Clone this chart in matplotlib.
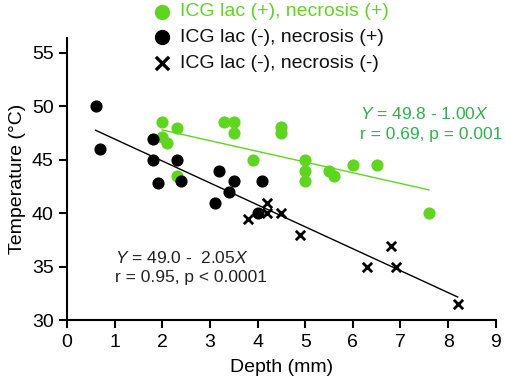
import numpy as np
import matplotlib.pyplot as plt

plt.rcParams['font.family'] = ['Liberation Sans', 'DejaVu Sans']
plt.rcParams['mathtext.fontset'] = 'custom'
plt.rcParams['mathtext.rm'] = 'Liberation Sans'
plt.rcParams['mathtext.it'] = 'Liberation Sans:italic'

# ICG lac (+), necrosis (+)
green_x = [2.0, 2.3, 2.0, 2.1, 2.3, 3.3, 3.5, 3.5, 3.9, 4.5, 4.5, 5.0, 5.0, 5.0, 5.5, 5.6, 6.0, 6.5, 7.6]
green_y = [48.5, 48.0, 47.1, 46.6, 43.5, 48.5, 48.5, 47.5, 45.0, 48.1, 47.5, 45.0, 44.0, 43.0, 44.0, 43.5, 44.5, 44.5, 40.0]
# ICG lac (-), necrosis (+)
black_x = [0.6, 0.7, 1.8, 1.8, 2.3, 1.9, 2.4, 3.2, 3.5, 4.1, 3.4, 3.1, 4.0]
black_y = [50.0, 46.0, 47.0, 45.0, 45.0, 42.8, 43.0, 44.0, 43.0, 43.0, 42.0, 41.0, 40.0]
# ICG lac (-), necrosis (-)
cross_x = [3.8, 4.2, 4.2, 4.5, 4.9, 6.3, 6.8, 6.9, 8.2]
cross_y = [39.5, 41.0, 40.0, 40.0, 38.0, 35.0, 37.0, 35.0, 31.5]

legend_labels = ['ICG lac (+), necrosis (+)', 'ICG lac (-), necrosis (+)', 'ICG lac (-), necrosis (-)']

# regression lines: (intercept, slope, x range)
green_fit = (49.8, -1.00, [2.0, 7.6])
black_fit = (49.0, -2.05, [0.6, 8.2])

pt_green = '#5fd61e'
txt_green = '#2db34a'

fig = plt.figure(figsize=(5.05, 3.87), dpi=100)
ax = fig.add_axes([0.1327, 0.172, 0.849, 0.73])

xs = np.array(black_fit[2])
ax.plot(xs, black_fit[0] + black_fit[1] * xs, color='black', lw=1)
xs = np.array(green_fit[2])
ax.plot(xs, green_fit[0] + green_fit[1] * xs, color=pt_green, lw=1)

ax.scatter(green_x, green_y, s=60, color=pt_green, zorder=3)
ax.scatter(black_x, black_y, s=60, color='black', zorder=3)
ax.scatter(cross_x, cross_y, s=45, marker='x', color='black', linewidths=2, zorder=3)

ax.set_xlim(0, 9)
ax.set_ylim(30, 56.4)
ax.set_xticks(range(0, 10))
ax.set_yticks(range(30, 56, 5))
for s in ['top', 'right']:
    ax.spines[s].set_visible(False)
ax.spines['left'].set_linewidth(1.5)
ax.spines['bottom'].set_linewidth(1.5)
ax.tick_params(direction='out', length=6, width=1.5, labelsize=14)
ax.set_xlabel('Depth (mm)', fontsize=14, labelpad=6)
ax.set_ylabel('Temperature (\u00b0C)', fontsize=14)

ax.text(1.0, 35.84, '$Y$ = 49.0 -  2.05$X$', fontsize=12.5, color='#222222', ha='left', va='center')
ax.text(1.0, 33.97, 'r = 0.95, p < 0.0001', fontsize=12.5, color='#222222', ha='left', va='center')
ax.text(6.14, 49.3, '$Y$ = 49.8 - 1.00$X$', fontsize=12.5, color=txt_green, ha='left', va='center')
ax.text(6.14, 47.33, 'r = 0.69, p = 0.001', fontsize=12.5, color=txt_green, ha='left', va='center')

# legend drawn by hand in figure coords
leg_y = [1 - 12 / 387, 1 - 37 / 387, 1 - 63 / 387]
ax_leg = fig.add_axes([0, 0, 1, 1], facecolor='none')
ax_leg.set_axis_off()
ax_leg.set_xlim(0, 1)
ax_leg.set_ylim(0, 1)
ax_leg.scatter([162 / 505], [leg_y[0]], s=100, color=pt_green, clip_on=False)
ax_leg.scatter([162 / 505], [leg_y[1]], s=100, color='black', clip_on=False)
ax_leg.scatter([162 / 505], [leg_y[2]], s=90, marker='x', color='black', linewidths=2.4, clip_on=False)
cols = [pt_green, '#111111', '#111111']
for y, lab, c in zip(leg_y, legend_labels, cols):
    ax_leg.text(180 / 505, y, lab, fontsize=14, color=c, va='center')

fig.savefig('out.png', dpi=100)
